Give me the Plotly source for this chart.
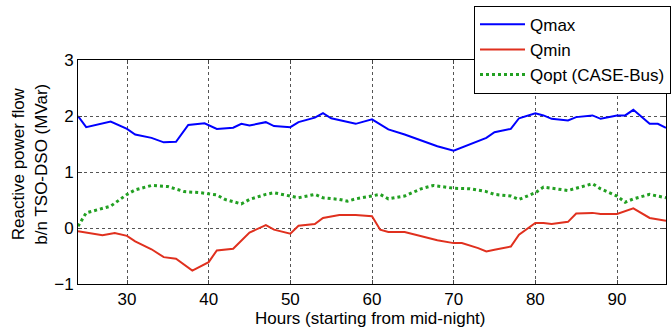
import plotly.graph_objects as go

qmax_x = [24, 25, 28, 30, 31, 33, 34.5, 36, 37.5, 39.5, 41, 43, 44, 45, 47, 48, 50, 51, 53, 54, 55, 57, 58, 60,
          62, 64, 66, 68, 70, 72, 74, 75, 77, 78, 80, 81, 82, 84, 85, 87, 88, 90, 91, 92, 94, 95, 96]
qmax_y = [2.0, 1.80, 1.90, 1.77, 1.67, 1.61, 1.53, 1.54, 1.84, 1.87, 1.77, 1.79, 1.86, 1.83, 1.89, 1.82, 1.80, 1.89, 1.97, 2.05, 1.96, 1.89, 1.86, 1.94,
          1.76, 1.67, 1.57, 1.46, 1.38, 1.49, 1.61, 1.71, 1.77, 1.96, 2.05, 2.01, 1.95, 1.92, 1.98, 2.01, 1.95, 2.01, 2.01, 2.11, 1.86, 1.86, 1.79]

qmin_x = [24, 26, 27, 28.5, 30, 31, 33, 34.5, 36, 38, 40, 41, 43, 45, 47, 48, 50, 51, 53, 54, 56, 58, 60,
          61, 62, 64, 66, 68, 70, 71, 73, 74, 75, 77, 78, 80, 81, 82, 84, 85, 87, 88, 90, 92, 94, 95, 96]
qmin_y = [-0.06, -0.10, -0.13, -0.09, -0.14, -0.24, -0.38, -0.52, -0.55, -0.76, -0.61, -0.40, -0.37, -0.08, 0.05, -0.03, -0.10, 0.04, 0.07, 0.18, 0.23, 0.23, 0.21,
          -0.03, -0.07, -0.07, -0.15, -0.22, -0.27, -0.27, -0.36, -0.42, -0.39, -0.33, -0.12, 0.09, 0.09, 0.07, 0.11, 0.26, 0.27, 0.25, 0.25, 0.35, 0.18, 0.15, 0.13]

qopt_x = [24, 25, 28, 30, 31, 33, 35, 37, 39, 41, 42, 44, 45, 47, 48, 50, 51, 53, 54, 56, 57, 58, 60,
          61, 62, 64, 66, 67.5, 70, 72, 74, 75, 77, 78, 80, 81, 82, 84, 85, 87, 88, 90, 91, 92, 94, 95, 96]
qopt_y = [0.03, 0.27, 0.39, 0.60, 0.68, 0.76, 0.74, 0.65, 0.63, 0.59, 0.51, 0.43, 0.51, 0.60, 0.63, 0.57, 0.54, 0.60, 0.54, 0.51, 0.48, 0.52, 0.58,
          0.60, 0.52, 0.57, 0.70, 0.76, 0.71, 0.70, 0.65, 0.60, 0.57, 0.51, 0.63, 0.73, 0.71, 0.67, 0.71, 0.79, 0.70, 0.57, 0.46, 0.52, 0.60, 0.57, 0.54]

x_ticks = [30, 40, 50, 60, 70, 80, 90]
y_ticks = [-1, 0, 1, 2, 3]

x_title = "Hours (starting from mid-night)"
y_title = "Reactive power flow<br>b/n TSO-DSO (MVar)"

FONT = "Liberation Sans, Arial, sans-serif"
FS = 17

fig = go.Figure()
fig.add_trace(go.Scatter(x=qmax_x, y=qmax_y, mode="lines", name="Qmax",
                         line=dict(color="#0000ff", width=2)))
fig.add_trace(go.Scatter(x=qmin_x, y=qmin_y, mode="lines", name="Qmin",
                         line=dict(color="#e0301e", width=2)))
fig.add_trace(go.Scatter(x=qopt_x, y=qopt_y, mode="lines", name="Qopt (CASE-Bus)",
                         line=dict(color="#22a022", width=3, dash="dot")))

fig.update_layout(
    width=672, height=330,
    margin=dict(l=78, r=6, t=60, b=46, autoexpand=False),
    paper_bgcolor="white", plot_bgcolor="white",
    font=dict(family=FONT, size=FS, color="black"),
    showlegend=True,
    legend=dict(x=1.0085, y=1.242, xanchor="right", yanchor="top",
                bgcolor="white", bordercolor="black", borderwidth=1,
                font=dict(size=FS), tracegroupgap=0, itemwidth=45),
    annotations=[
        dict(text=x_title, xref="paper", yref="paper", x=0.497, y=-0.152,
             xanchor="center", yanchor="middle", showarrow=False, font=dict(size=FS)),
        dict(text=y_title, xref="paper", yref="paper", x=-0.0816, y=0.533,
             xanchor="center", yanchor="middle", textangle=-90, showarrow=False,
             font=dict(size=FS)),
    ],
)
fig.update_xaxes(range=[24, 96], tickvals=x_ticks, showgrid=True, gridcolor="#555",
                 griddash="dot", gridwidth=1, showline=True, linecolor="black", linewidth=1,
                 mirror="ticks", ticks="inside", ticklen=4, zeroline=False, automargin=False,
                 tickfont=dict(size=FS))
fig.update_yaxes(range=[-1, 3], tickvals=y_ticks, showgrid=True, gridcolor="#555",
                 griddash="dot", gridwidth=1, showline=True, linecolor="black", linewidth=1,
                 mirror="ticks", ticks="inside", ticklen=4, zeroline=False, automargin=False,
                 tickfont=dict(size=FS))

fig.write_html("out.html", config={"displayModeBar": False},
               post_script="document.body.style.margin='0';document.body.style.overflow='hidden';")
